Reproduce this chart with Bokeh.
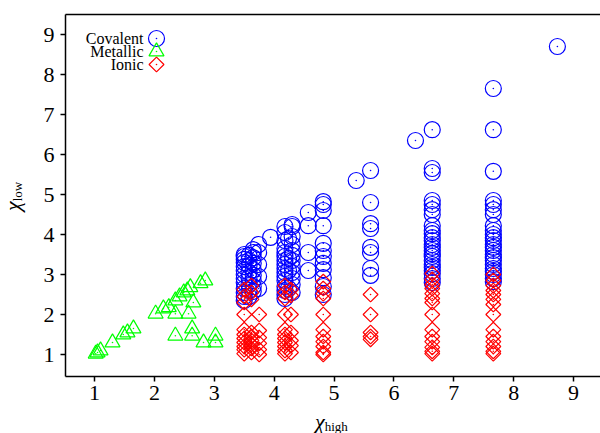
import numpy as np
from bokeh.plotting import figure
from bokeh.models import Label, LinearAxis, FixedTicker, Range1d, Div
from bokeh.layouts import column, row
from bokeh.embed import file_html
from bokeh.resources import INLINE

# ---------------- data ----------------
# Metallic (green triangles)
metallic_x = [1.02, 1.05, 1.10, 1.30, 1.48, 1.55, 1.65, 2.02, 2.15, 2.24, 2.35, 2.35,
              2.42, 2.49, 2.55, 2.60, 2.65, 2.57, 2.77, 2.85, 2.35, 2.63, 2.63, 2.82,
              3.02, 3.02]
metallic_y = [1.02, 1.05, 1.10, 1.30, 1.50, 1.55, 1.65, 2.02, 2.15, 2.18, 2.02, 2.35,
              2.45, 2.55, 2.60, 2.68, 2.30, 2.02, 2.78, 2.85, 1.47, 1.65, 1.47, 1.30,
              1.47, 1.30]

# Covalent (blue circles): column x positions and the y values in each column
covalent_cols = [3.50, 3.58, 3.65, 3.74, 4.18, 4.24, 4.30, 4.57, 4.82, 5.61, 6.64, 7.66]
covalent_vals = [
    [3.50, 3.45, 3.38, 3.30, 3.20, 3.10, 3.00, 2.90, 2.80, 2.65, 2.55, 2.45, 2.35],
    [3.48, 3.35, 3.22, 3.05, 2.92, 2.75, 2.60, 2.45],
    [3.62, 3.55, 3.42, 3.28, 3.12, 2.98, 2.85, 2.70, 2.58],
    [3.75, 3.55, 3.25, 2.95, 2.65],
    [4.20, 4.05, 3.85, 3.65, 3.55, 3.45, 3.35, 3.25, 3.15, 3.05, 2.95, 2.85, 2.70, 2.60, 2.50, 2.40],
    [3.90, 3.40, 3.10, 2.65],
    [4.25, 4.20, 3.95, 3.75, 3.60, 3.48, 3.35, 3.20, 3.05, 2.90, 2.75, 2.55],
    [4.55, 4.22, 3.55, 3.10],
    [4.82, 4.75, 4.60, 4.22, 3.78, 3.60, 3.45, 3.28, 3.12, 2.92, 2.70, 2.50],
    [5.60, 4.80, 4.27, 4.15, 3.68, 3.55, 3.15, 2.98],
    [6.62, 5.65, 5.55, 4.85, 4.75, 4.62, 4.50, 4.22, 4.10, 4.02, 3.92, 3.85, 3.75, 3.68,
     3.60, 3.52, 3.45, 3.35, 3.25, 3.18, 3.10, 3.02, 2.90, 2.80],
    [7.65, 6.62, 5.58, 4.85, 4.75, 4.62, 4.50, 4.22, 4.10, 4.00, 3.92, 3.85, 3.75, 3.68,
     3.60, 3.50, 3.42, 3.35, 3.25, 3.15, 3.08, 3.00, 2.90, 2.82],
]
covalent_extra_x = [3.94, 5.37, 6.36, 8.73]
covalent_extra_y = [3.93, 5.35, 6.35, 8.70]

# Ionic (red diamonds)
ionic_cols = [3.50, 3.62, 3.75, 4.18, 4.28, 4.82, 5.61, 6.64, 7.66]
ionic_vals = [
    [2.62, 2.45, 2.30, 2.00, 1.62, 1.50, 1.40, 1.30, 1.20, 1.12, 1.02],
    [2.72, 2.55, 2.38, 1.55, 1.45, 1.35, 1.25, 1.15, 1.05],
    [2.00, 1.60, 1.42, 1.28, 1.12, 1.00],
    [2.72, 2.55, 2.40, 2.00, 1.62, 1.50, 1.40, 1.30, 1.20, 1.10, 1.02],
    [2.62, 2.48, 2.00, 1.55, 1.35, 1.22, 1.05],
    [2.82, 2.65, 2.52, 2.40, 2.00, 1.62, 1.45, 1.32, 1.20, 1.05, 1.00],
    [2.50, 2.00, 1.55, 1.45, 1.38],
    [3.02, 2.88, 2.75, 2.65, 2.52, 2.40, 2.30, 2.00, 1.62, 1.45, 1.32, 1.18, 1.08, 1.02],
    [3.00, 2.85, 2.72, 2.60, 2.50, 2.38, 2.25, 2.00, 1.62, 1.45, 1.32, 1.20, 1.08, 1.02],
]

tick_values = [1, 2, 3, 4, 5, 6, 7, 8, 9]
legend_labels = ["Covalent", "Metallic", "Ionic"]
x_title = ("χ", "high")
y_title = ("χ", "low")

covalent_x = [c for c, vs in zip(covalent_cols, covalent_vals) for _ in vs] + covalent_extra_x
covalent_y = [v for vs in covalent_vals for v in vs] + covalent_extra_y
ionic_x = [c for c, vs in zip(ionic_cols, ionic_vals) for _ in vs]
ionic_y = [v for vs in ionic_vals for v in vs]

# ---------------- layout geometry (page pixels) ----------------
FONT = "Liberation Serif"
YDIV_W = 28
FIG_H = 412
FL, FT, FW, FH = 65, 14, 535, 362   # frame left/top/width/height on the page
X0, X1 = 0.515, 9.45
Y0, Y1 = 0.45, 9.5

p = figure(width=600 - YDIV_W, height=FIG_H, x_range=Range1d(X0, X1), y_range=Range1d(Y0, Y1),
           output_backend="svg", toolbar_location=None,
           min_border_left=FL - YDIV_W, min_border_right=0, min_border_top=FT,
           min_border_bottom=FIG_H - FT - FH)
p.outline_line_color = None
p.grid.visible = False
p.background_fill_color = "white"

for ax in (p.xaxis[0], p.yaxis[0]):
    ax.ticker = FixedTicker(ticks=tick_values)
    ax.major_tick_out = 5
    ax.major_tick_in = 0
    ax.minor_tick_out = 0
    ax.minor_tick_in = 0
    ax.axis_line_width = 1.5
    ax.major_tick_line_width = 1.5
    ax.major_label_text_font = FONT
    ax.major_label_text_font_size = "22px"
    ax.major_label_text_color = "black"
p.xaxis[0].major_label_standoff = 4
p.yaxis[0].major_label_standoff = 6

top = LinearAxis(ticker=FixedTicker(ticks=[]), major_tick_out=0, major_tick_in=0,
                 minor_tick_out=0, minor_tick_in=0, axis_line_width=1.5,
                 major_label_text_font_size="0px")
p.add_layout(top, "above")

COV, MET, ION = "#0000ff", "#00ff00", "#ff0000"

def draw(xs, ys, marker, size, color, angle=0.0):
    p.scatter(xs, ys, marker=marker, size=size, angle=angle, fill_color=None,
              line_color=color, line_width=1.2)
    p.scatter(xs, ys, marker="circle", size=1.6, fill_color=color, line_color=None)

draw(covalent_x, covalent_y, "circle", 16, COV)
draw(ionic_x, ionic_y, "square", 10.5, ION, np.pi / 4)
draw(metallic_x, metallic_y, "triangle", 15, MET)

# ---------------- legend (manual, text left of marker) ----------------
def px2x(px):
    return X0 + (px - FL) * (X1 - X0) / FW

def py2y(py):
    return Y1 - (py - FT) * (Y1 - Y0) / FH

leg_py = [38, 51, 64]
leg_markers = ["circle", "triangle", "square"]
leg_colors = [COV, MET, ION]
leg_sizes = [16, 15, 10.5]
leg_angles = [0, 0, np.pi / 4]
for lab, py, mk, col, sz, ang in zip(legend_labels, leg_py, leg_markers, leg_colors, leg_sizes, leg_angles):
    draw([px2x(156)], [py2y(py)], mk, sz, col, ang)
    p.add_layout(Label(x=143 - FL, y=FT + FH - py, x_units="screen", y_units="screen", text=lab,
                       text_font=FONT, text_font_size="16px", text_align="right",
                       text_baseline="middle", text_color="black"))

# ---------------- axis titles as HTML (italic chi with subscript) ----------------
base_css = ("position:absolute;white-space:nowrap;font-family:'Liberation Serif',serif;"
            "font-size:22px;line-height:22px;color:black;")
sub_css = "font-size:13px;vertical-align:-2px;"

ydiv = Div(width=YDIV_W, height=FIG_H, margin=0,
           text=(f'<div style="position:relative;width:{YDIV_W}px;height:{FIG_H}px;">'
                 f'<div style="{base_css}left:2px;top:211px;transform:rotate(-90deg);'
                 f'transform-origin:0 0;"><i>{y_title[0]}</i>'
                 f'<span style="{sub_css}">{y_title[1]}</span></div></div>'))
xdiv = Div(width=600, height=433 - FIG_H, margin=0,
           text=(f'<div style="position:relative;width:600px;height:{433 - FIG_H}px;">'
                 f'<div style="{base_css}left:315px;top:-1px;"><i>{x_title[0]}</i>'
                 f'<span style="{sub_css}">{x_title[1]}</span></div></div>'))

layout = column(row(ydiv, p, spacing=0), xdiv, spacing=0)

open("out.html", "w").write(file_html(layout, INLINE))
